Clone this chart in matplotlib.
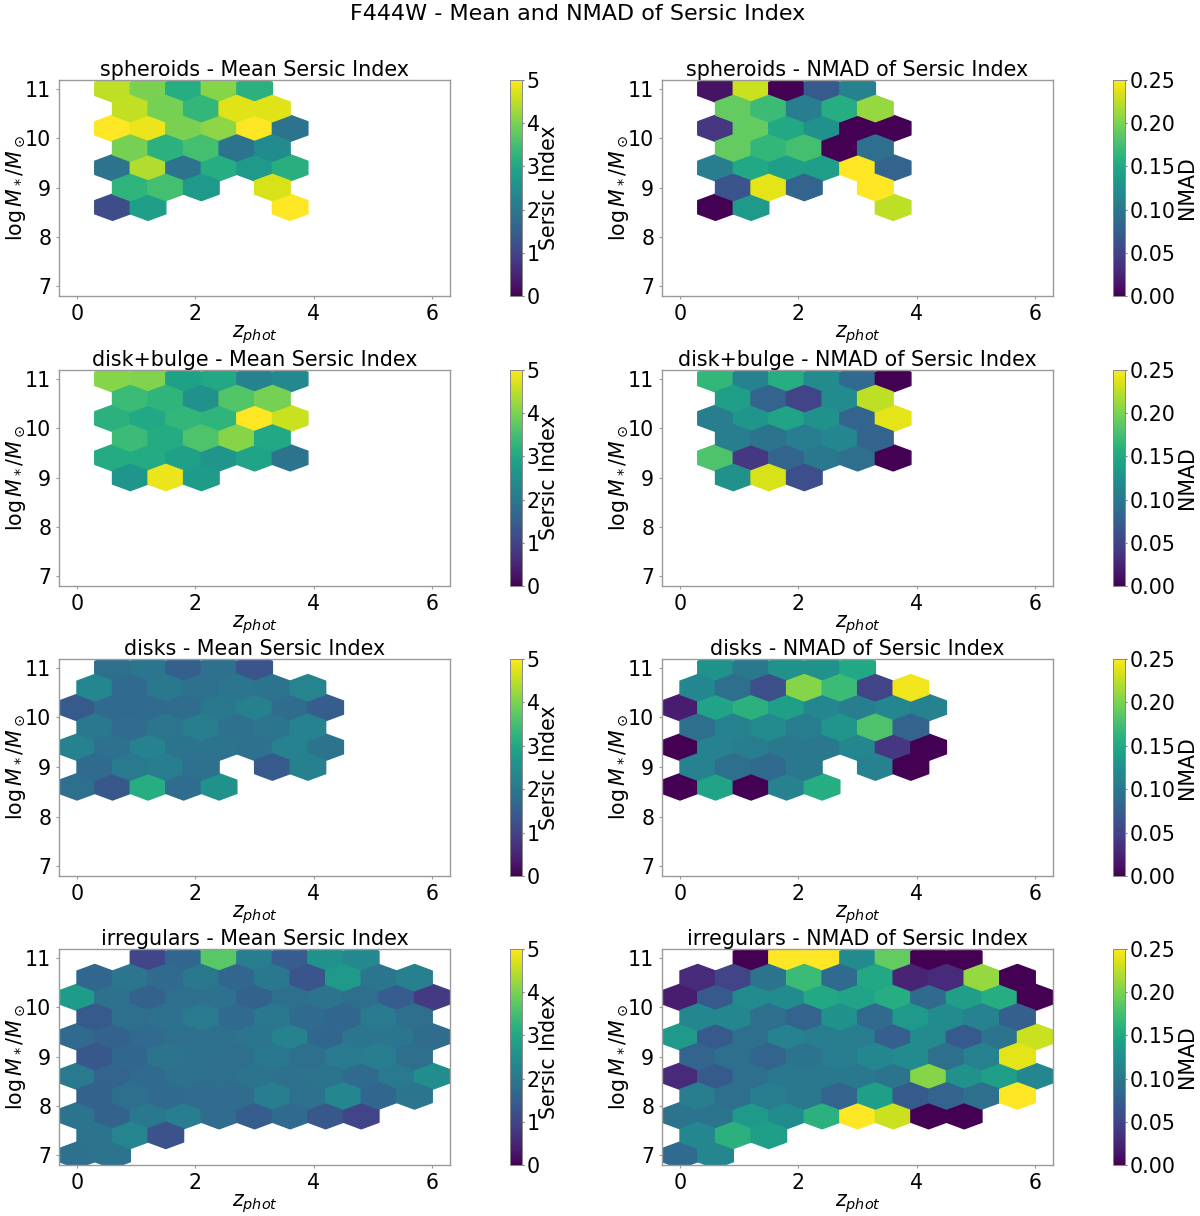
import matplotlib
matplotlib.use("Agg")
import matplotlib.pyplot as plt
import numpy as np

W, H = 1200, 1216

# each row: (log mass, first z of the row, cell values), nan = empty cell
nan = float("nan")

spheroids_mean = [
    (11.0, 0.6, [4.5, 4.0, 3.1, 4.1, 3.2]),
    (10.6, 0.9, [4.55, 3.95, 3.3, 4.75, 4.75]),
    (10.2, 0.6, [5.0, 4.85, 4.0, 4.15, 5.0, 1.9]),
    (9.8, 0.9, [3.95, 3.2, 3.5, 1.9, 2.4]),
    (9.4, 0.6, [1.9, 4.4, 1.9, 3.1, 2.7, 3.15]),
    (9.0, 0.9, [3.25, 3.5, 2.7, nan, 4.7]),
    (8.6, 0.6, [1.15, 2.8, nan, nan, nan, 5.0]),
]
spheroids_nmad = [
    (11.0, 0.6, [0.0125, 0.23, 0.0, 0.07, 0.11]),
    (10.6, 0.9, [0.19, 0.17, 0.105, 0.155, 0.21]),
    (10.2, 0.6, [0.04, 0.19, 0.15, 0.125, 0.0, 0.0]),
    (9.8, 0.9, [0.19, 0.165, 0.175, 0.0, 0.09]),
    (9.4, 0.6, [0.105, 0.15, 0.14, 0.14, 0.25, 0.08]),
    (9.0, 0.9, [0.065, 0.24, 0.08, nan, 0.25]),
    (8.6, 0.6, [0.0, 0.135, nan, nan, nan, 0.225]),
]
diskbulge_mean = [
    (11.0, 0.6, [4.1, 4.05, 2.85, 3.0, 2.2, 2.35]),
    (10.6, 0.9, [3.4, 3.25, 2.5, 3.65, 3.95]),
    (10.2, 0.6, [3.2, 3.0, 3.3, 3.25, 5.0, 4.6]),
    (9.8, 0.9, [3.4, 3.05, 3.6, 4.1, 3.0]),
    (9.4, 0.6, [3.05, 3.05, 2.85, 2.6, 2.9, 1.9]),
    (9.0, 0.9, [2.6, 4.85, 2.75]),
]
diskbulge_nmad = [
    (11.0, 0.6, [0.165, 0.11, 0.155, 0.12, 0.085, 0.0]),
    (10.6, 0.9, [0.14, 0.08, 0.05, 0.12, 0.225]),
    (10.2, 0.6, [0.105, 0.13, 0.145, 0.125, 0.08, 0.24]),
    (9.8, 0.9, [0.105, 0.095, 0.105, 0.115, 0.08]),
    (9.4, 0.6, [0.18, 0.04, 0.08, 0.10, 0.09, 0.0]),
    (9.0, 0.9, [0.125, 0.235, 0.06]),
]
disks_mean = [
    (11.0, 0.6, [1.8, 1.95, 1.5, 1.85, 1.3]),
    (10.6, 0.3, [2.3, 1.7, 2.0, 1.85, 1.95, 1.9, 2.25]),
    (10.2, 0.0, [1.4, 1.7, 1.7, 1.75, 2.0, 2.15, 1.75, 1.45]),
    (9.8, 0.3, [2.0, 1.75, 1.95, 2.1, 1.85, 1.95, 2.2]),
    (9.4, 0.0, [2.2, 1.85, 2.2, 1.9, 1.9, 1.85, 2.2, 1.9]),
    (9.0, 0.3, [1.7, 2.05, 2.1, 1.85, nan, 1.4, 2.15]),
    (8.6, 0.0, [1.8, 1.35, 3.1, 1.75, 2.5]),
]
disks_nmad = [
    (11.0, 0.6, [0.125, 0.10, 0.125, 0.125, 0.15]),
    (10.6, 0.3, [0.115, 0.09, 0.06, 0.205, 0.17, 0.05, 0.245]),
    (10.2, 0.0, [0.02, 0.145, 0.16, 0.14, 0.115, 0.105, 0.115, 0.11]),
    (9.8, 0.3, [0.09, 0.11, 0.12, 0.105, 0.13, 0.18, 0.08]),
    (9.4, 0.0, [0.0, 0.11, 0.105, 0.10, 0.10, 0.115, 0.04, 0.0]),
    (9.0, 0.3, [0.11, 0.09, 0.085, 0.10, nan, 0.11, 0.0]),
    (8.6, 0.0, [0.0, 0.145, 0.0, 0.11, 0.155]),
]
irregulars_mean = [
    (11.0, 1.2, [1.05, 1.65, 3.7, 2.1, 1.45, 2.5, 2.35]),
    (10.6, 0.3, [1.65, 1.95, 1.7, 2.0, 1.65, 2.0, 1.3, 2.7, 1.95, 2.15]),
    (10.2, 0.0, [2.75, 1.85, 1.55, 1.8, 1.85, 1.55, 1.8, 1.9, 1.8, 1.45, 0.85]),
    (9.8, 0.3, [1.4, 1.8, 1.85, 2.05, 1.7, 2.0, 1.7, 1.65, 2.05, 1.8]),
    (9.4, 0.0, [1.7, 1.55, 1.7, 1.8, 1.85, 1.95, 2.2, 1.65, 1.95, 1.95, 1.75]),
    (9.0, 0.3, [1.35, 1.65, 1.9, 1.85, 1.8, 2.0, 1.8, 2.05, 2.1, 1.8]),
    (8.6, 0.0, [2.05, 1.6, 1.7, 1.85, 1.8, 1.9, 1.85, 1.9, 1.7, 2.05, 2.45]),
    (8.2, 0.3, [1.55, 1.8, 1.7, 1.75, 1.75, 2.1, 1.85, 2.3, 1.65, 1.95]),
    (7.8, 0.0, [1.9, 1.55, 2.0, 2.1, 1.75, 1.45, 1.7, 1.35, 1.0]),
    (7.4, 0.3, [1.9, 2.25, 1.25]),
    (7.0, 0.0, [1.85, 1.9]),
]
irregulars_nmad = [
    (11.0, 1.2, [0.0, 0.25, 0.25, 0.12, 0.19, 0.0, 0.0]),
    (10.6, 0.3, [0.03, 0.05, 0.095, 0.17, 0.085, 0.15, 0.025, 0.03, 0.21, 0.0]),
    (10.2, 0.0, [0.02, 0.07, 0.12, 0.12, 0.15, 0.145, 0.155, 0.085, 0.14, 0.155, 0.0]),
    (9.8, 0.3, [0.115, 0.115, 0.09, 0.08, 0.125, 0.085, 0.135, 0.12, 0.11, 0.075]),
    (9.4, 0.0, [0.135, 0.07, 0.09, 0.11, 0.105, 0.105, 0.075, 0.12, 0.07, 0.095, 0.23]),
    (9.0, 0.3, [0.08, 0.09, 0.08, 0.095, 0.105, 0.115, 0.12, 0.09, 0.11, 0.24]),
    (8.6, 0.0, [0.03, 0.07, 0.09, 0.10, 0.10, 0.10, 0.095, 0.205, 0.125, 0.14, 0.115]),
    (8.2, 0.3, [0.105, 0.09, 0.105, 0.10, 0.08, 0.14, 0.07, 0.08, 0.09, 0.25]),
    (7.8, 0.0, [0.095, 0.095, 0.135, 0.12, 0.16, 0.25, 0.23, 0.0, 0.0]),
    (7.4, 0.3, [0.115, 0.16, 0.14]),
    (7.0, 0.0, [0.085, 0.115]),
]

morphologies = ["spheroids", "disk+bulge", "disks", "irregulars"]
mean_rows = [spheroids_mean, diskbulge_mean, disks_mean, irregulars_mean]
nmad_rows = [spheroids_nmad, diskbulge_nmad, disks_nmad, irregulars_nmad]

z_step = 0.6
fs = 14.8
grey = "#9a9a9a"


def cells(rows):
    x, y, c = [], [], []
    for mass, z0, values in rows:
        for i, v in enumerate(values):
            if not np.isnan(v):
                x.append(z0 + i * z_step)
                y.append(mass)
                c.append(v)
    return x, y, c


def box(left, top, right, bottom):
    # pixels to figure fractions
    return [left / W, 1 - bottom / H, (right - left) / W, (bottom - top) / H]


def panel(ax_box, cax_box, rows, title, vmax, cticks, clabel, cfmt, cpad):
    ax = fig.add_axes(ax_box)
    x, y, c = cells(rows)
    hb = ax.hexbin(x, y, C=c, gridsize=(10, 5), extent=(0, 6, 7, 11), cmap="viridis", vmin=0, vmax=vmax)
    ax.set_xlim(-0.304, 6.3)
    ax.set_ylim(6.80, 11.18)
    ax.set_xticks([0, 2, 4, 6])
    ax.set_yticks([7, 8, 9, 10, 11])
    ax.tick_params(labelsize=fs, length=2, width=0.8, color=grey, pad=3.5)
    for s in ax.spines.values():
        s.set_color(grey)
        s.set_linewidth(1)
    ax.set_title(title, fontsize=14.85, pad=2)
    ax.set_xlabel("$z_{phot}$", fontsize=fs, labelpad=-0.5)
    ax.set_ylabel(r"$\log M_*/M_\odot$", fontsize=fs, labelpad=-2)

    cax = fig.add_axes(cax_box)
    cb = fig.colorbar(hb, cax=cax)
    cb.set_ticks(cticks)
    cb.ax.set_yticklabels([cfmt.format(t) for t in cticks])
    cb.ax.tick_params(labelsize=fs, length=1.5, width=0.8, color="#777777", pad=2)
    cb.outline.set_edgecolor("#888888")
    cb.outline.set_linewidth(0.7)
    cb.set_label(clabel, fontsize=fs, labelpad=cpad)


fig = plt.figure(figsize=(W / 100, H / 100), dpi=100)

tops = [80, 370, 659, 949]
bottoms = [296, 586, 876, 1165]

for i, name in enumerate(morphologies):
    panel(box(59, tops[i], 450, bottoms[i]), box(510, tops[i], 522, bottoms[i]), mean_rows[i],
          name + " - Mean Sersic Index", 5, [0, 1, 2, 3, 4, 5], "Sersic Index", "{:d}", -0.5)
    panel(box(662, tops[i], 1053, bottoms[i]), box(1113, tops[i], 1125, bottoms[i]), nmad_rows[i],
          name + " - NMAD of Sersic Index", 0.25, [0, 0.05, 0.10, 0.15, 0.20, 0.25], "NMAD", "{:.2f}", 0.5)

fig.text(578 / W, 1 - 13.5 / H, "F444W - Mean and NMAD of Sersic Index", fontsize=16, ha="center", va="center")

fig.savefig("out.png", dpi=100)
